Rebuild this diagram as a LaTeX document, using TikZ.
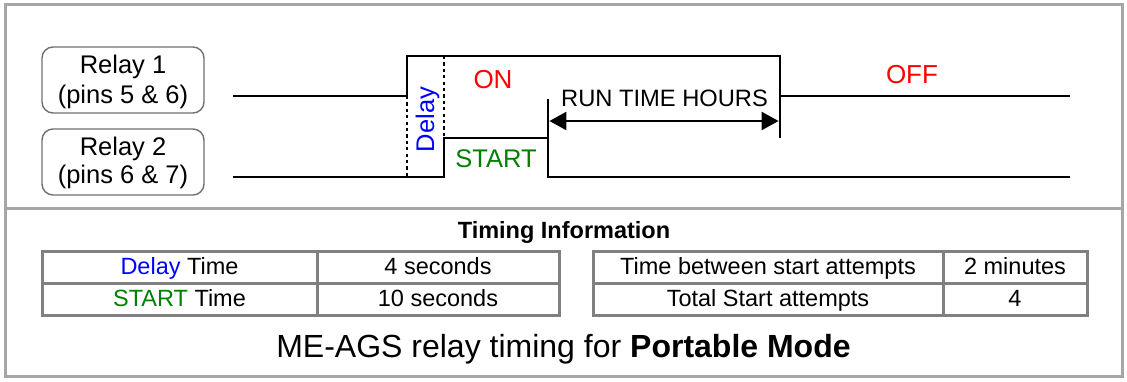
\documentclass[tikz,border=0pt]{standalone}
\usepackage{fontspec}
\setmainfont{Liberation Sans}
\usetikzlibrary{arrows.meta}
\definecolor{myblue}{RGB}{0,0,255}
\definecolor{myred}{RGB}{255,0,0}
\definecolor{mygreen}{RGB}{0,128,0}
\definecolor{framegray}{RGB}{166,166,166}
\definecolor{tablegray}{RGB}{128,128,128}
\definecolor{boxgray}{RGB}{112,112,112}
\newcommand{\fs}[1]{\fontsize{#1}{#1}\selectfont}
\begin{document}
\begin{tikzpicture}[x=1pt,y=-1pt,
  signal/.style={line width=2.8pt,line join=miter,line cap=butt},
  dashline/.style={line width=2.2pt,dash pattern=on 3.2pt off 3.2pt},
  relaybox/.style={draw=boxgray,line width=1.4pt,rounded corners=11pt,minimum width=162pt,minimum height=66pt,inner sep=0pt},
  lbl/.style={anchor=base,inner sep=0pt},
  tabline/.style={draw=tablegray,line width=3pt},
  frame/.style={draw=framegray,line width=3pt},
  dim/.style={line width=2.4pt,{Triangle[length=17pt,width=18pt]}-{Triangle[length=17pt,width=18pt]}}
]
\useasboundingbox (0,0) rectangle (1127,381);
% frame
\draw[frame] (5,4) rectangle (1122,376);
\draw[frame] (5,208) -- (1122,208);
% relay labels
\node[relaybox] (r1box) at (123,80) {};
\node[lbl] (r1a) at (123,73.5) {\fs{25.5}Relay 1};
\node[lbl] (r1b) at (123,103) {\fs{25.5}(pins 5 \& 6)};
\node[relaybox] (r2box) at (123,162) {};
\node[lbl] (r2a) at (123,155.5) {\fs{25.5}Relay 2};
\node[lbl] (r2b) at (123,183.5) {\fs{25.5}(pins 6 \& 7)};
% signal corners
\coordinate (a0) at (233,96);
\coordinate (a1) at (407,96);
\coordinate (a2) at (407,56);
\coordinate (a3) at (780,56);
\coordinate (a4) at (780,96);
\coordinate (a5) at (1070,96);
\coordinate (a6) at (780,138);
\coordinate (b0) at (233,177);
\coordinate (b1) at (444,177);
\coordinate (b2) at (444,138);
\coordinate (b3) at (548,138);
\coordinate (b4) at (548,177);
\coordinate (b5) at (1070,177);
\coordinate (b6) at (548,99);
\coordinate (d1) at (407,177);
\coordinate (d2) at (444,56);
\draw[signal] (a0) -- (a1) -- (a2) -- (a3) -- (a6);
\draw[signal] (a4) -- (a5);
\draw[signal] (b0) -- (b1) -- (b2) -- (b3) -- (b4) -- (b5);
\draw[signal] (b3) -- (b6);
\draw[dashline] (a1) -- (d1);
\draw[dashline] (d2) -- (b2);
% dimension arrow
\coordinate (p1) at (549.4,121);
\coordinate (p2) at (778.6,121);
\draw[dim] (p1) -- (p2);
% labels
\node[lbl,rotate=90,text=myblue] (delay) at (434,119.5) {\fs{25.5}Delay};
\node[lbl,text=myred] (on) at (493,88.5) {\fs{26}ON};
\node[lbl,text=myred] (off) at (912,83.5) {\fs{26}OFF};
\node[lbl,text=mygreen] (start) at (496,167) {\fs{25.5}START};
\node[lbl] (run) at (664.5,106) {\fs{23.7}RUN TIME HOURS};
% timing info
\node[lbl] (title) at (564,238) {\fs{23.5}\bfseries Timing Information};
\draw[tabline] (42,251) rectangle (559,315);
\draw[tabline] (42,283) -- (559,283);
\draw[tabline] (317,251) -- (317,315);
\draw[tabline] (593,251) rectangle (1087,315);
\draw[tabline] (593,283) -- (1087,283);
\draw[tabline] (943,251) -- (943,315);
\node[lbl] (c11) at (179.5,274) {\fs{23.5}\textcolor{myblue}{Delay} Time};
\node[lbl] (c12) at (438,274) {\fs{23.5}4 seconds};
\node[lbl] (c21) at (179.5,306) {\fs{23.5}\textcolor{mygreen}{START} Time};
\node[lbl] (c22) at (438,306) {\fs{23.5}10 seconds};
\node[lbl] (c13) at (768,274) {\fs{23.5}Time between start attempts};
\node[lbl] (c14) at (1015,274) {\fs{23.5}2 minutes};
\node[lbl] (c23) at (768,306) {\fs{23.5}Total Start attempts};
\node[lbl] (c24) at (1015,306) {\fs{23.5}4};
\node[lbl] (cap) at (563.5,357) {\fs{32}ME-AGS relay timing for \textbf{Portable Mode}};
\end{tikzpicture}
\end{document}
